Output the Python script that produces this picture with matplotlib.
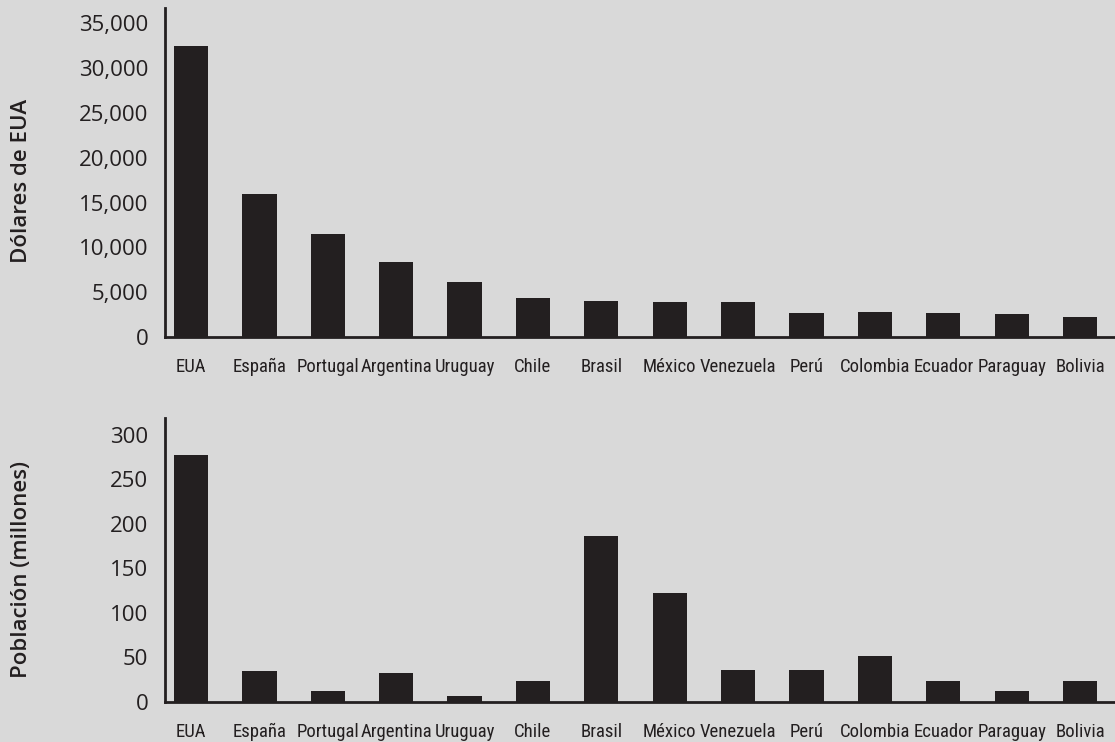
import matplotlib
matplotlib.use("Agg")
import matplotlib.pyplot as plt
from matplotlib import font_manager as fm
from matplotlib.ticker import FuncFormatter

countries = ["EUA", "España", "Portugal", "Argentina", "Uruguay", "Chile", "Brasil",
             "México", "Venezuela", "Perú", "Colombia", "Ecuador", "Paraguay", "Bolivia"]
gdp_pc = [32500, 15900, 11500, 8400, 6100, 4300, 4000, 3900, 3900, 2650, 2750, 2650, 2550, 2200]
population = [277, 35, 12, 33, 7, 24, 187, 122, 36, 36, 52, 24, 12, 24]
gdp_ticks = [0, 5000, 10000, 15000, 20000, 25000, 30000, 35000]
pop_ticks = [0, 50, 100, 150, 200, 250, 300]

names = {f.name for f in fm.fontManager.ttflist}
if "Roboto Condensed" in names:
    narrow, nsize = "Roboto Condensed", 13.5
elif "Liberation Sans Narrow" in names:
    narrow, nsize = "Liberation Sans Narrow", 13
else:
    narrow, nsize = "Roboto", 12
main = "Open Sans" if "Open Sans" in names else "DejaVu Sans"

BG = "#d9d9d9"
BAR = "#231f20"

fig = plt.figure(figsize=(11.15, 7.42), dpi=100, facecolor=BG)
ax1 = fig.add_axes([0.148, 0.5458, 0.852, 0.4434])
ax2 = fig.add_axes([0.148, 0.0539, 0.852, 0.3828])

x = list(range(len(countries)))

def style(ax, vals, ticks, ymax, fmt=None):
    ax.set_facecolor(BG)
    ax.bar(x, vals, width=0.5, color=BAR, zorder=3)
    ax.set_xlim(-0.38, 13.51)
    ax.set_ylim(0, ymax)
    ax.set_yticks(ticks)
    if fmt is not None:
        ax.yaxis.set_major_formatter(fmt)
    ax.set_xticks(x)
    ax.set_xticklabels(countries, fontfamily=narrow, fontsize=nsize, color=BAR,
                       va="baseline")
    ax.set_yticks(ticks)
    ax.set_yticklabels([ax.yaxis.get_major_formatter()(t, i) for i, t in enumerate(ticks)],
                       fontfamily=main, fontsize=16, color=BAR)
    ax.tick_params(axis="both", length=0)
    ax.tick_params(axis="y", pad=12)
    ax.tick_params(axis="x", pad=25.2)
    for s in ["top", "right"]:
        ax.spines[s].set_visible(False)
    for s in ["left", "bottom"]:
        ax.spines[s].set_color(BAR)
        ax.spines[s].set_linewidth(2)

style(ax1, gdp_pc, gdp_ticks, 36700, FuncFormatter(lambda v, p: f"{int(v):,}"))
style(ax2, population, pop_ticks, 319, FuncFormatter(lambda v, p: f"{int(v)}"))

fig.text(22 / 1115, 0.756, "Dólares de EUA", rotation=90, ha="center", va="center",
         fontfamily=main, fontsize=16, fontweight="semibold", color=BAR)
fig.text(22 / 1115, 0.232, "Población (millones)", rotation=90, ha="center", va="center",
         fontfamily=main, fontsize=16, fontweight="semibold", color=BAR)

fig.savefig("out.png", dpi=100, facecolor=BG)
